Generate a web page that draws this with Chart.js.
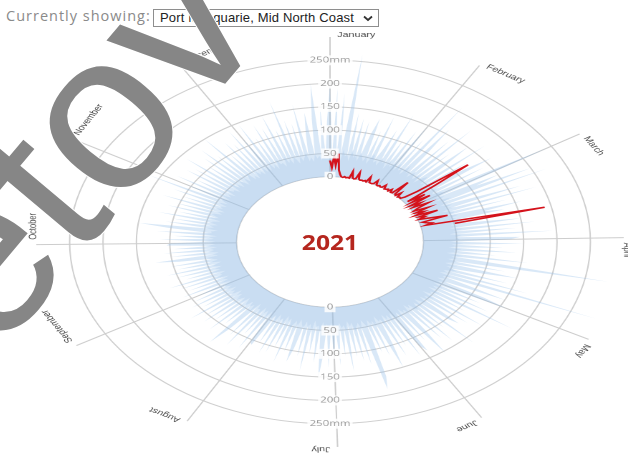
<!DOCTYPE html>
<html>
<head>
<meta charset="utf-8">
<script src="https://cdn.jsdelivr.net/npm/chart.js@4.4.0/dist/chart.umd.min.js"></script>
<style>
html,body{margin:0;padding:0;width:628px;height:454px;overflow:hidden;background:#fff;}
#hdr{position:absolute;left:6px;top:6px;font:14.5px "Open Sans",sans-serif;letter-spacing:1px;color:#8a8a8a;white-space:nowrap;line-height:20px;}
#sel{position:absolute;left:153px;top:9px;width:218px;height:16px;border:1px solid #8e8e8e;font:13px "Liberation Sans",Arial,sans-serif;letter-spacing:0.15px;color:#222;line-height:16px;padding-left:6px;box-sizing:content-box;white-space:nowrap;}
#sel svg{position:absolute;right:5px;top:5px;}
#wrap{position:absolute;left:100px;top:12px;width:460px;height:460px;transform:scaleX(1.433);transform-origin:230px 230px;}
#year{position:absolute;left:330px;top:241px;transform:translate(-50%,-50%) scaleX(1.12);font:bold 22px "Open Sans",sans-serif;color:#b5261e;white-space:nowrap;}
#wm{position:absolute;left:0;top:0;width:628px;height:454px;pointer-events:none;}
</style>
</head>
<body>
<div id="hdr">Currently showing:</div>
<div id="sel">Port Macquarie, Mid North Coast<svg width="10" height="7" viewBox="0 0 10 7"><polyline points="1,1.5 5,5 9,1.5" fill="none" stroke="#333" stroke-width="1.8"/></svg></div>
<div id="wrap"><canvas id="c" width="460" height="460"></canvas></div>
<div id="year">2021</div>
<svg id="wm" viewBox="0 0 628 454"><text x="-4" y="357" transform="rotate(-50 -4 357)" font-family="Liberation Sans, Arial, sans-serif" font-size="225" fill="#868686" stroke="#ffffff" stroke-width="2" paint-order="stroke">etov</text></svg>
<script>
// ---- categories ----
const MONTHS = ['January','February','March','April','May','June','July','August','September','October','November','December'];
const DAYS_IN_MONTH = [31,28,31,30,31,30,31,31,30,31,30,31];

// ---- radial axis ticks (mm) ----
const TICK_VALUES = [0, 50, 100, 150, 200, 250];
const TICK_UNIT = 'mm';

// ---- historical daily maxima (mm), Jan 1 .. Dec 31 ----
const RAIN_MAX = [
  198,48,190,45,180,50,120,265,45,140,52,130,44,125,50,100,135,46,110,48,145,50,70,120,46,160,48,105,44,130,50,
  150,46,120,44,210,48,160,100,45,140,50,180,46,120,44,150,100,48,170,45,130,50,115,160,46,140,48,120,
  245,48,150,110,200,46,220,50,95,170,45,190,48,140,46,160,100,130,48,200,50,90,150,46,170,48,140,50,195,46,145,
  130,46,150,48,120,44,140,50,110,46,160,48,120,285,45,130,48,150,100,46,140,50,175,48,290,46,90,150,44,120,
  160,46,120,48,140,44,190,46,110,45,150,48,130,44,120,100,46,165,44,110,48,140,44,125,46,100,155,45,115,44,135,
  120,44,140,46,110,42,130,45,100,150,44,120,42,110,46,160,187,44,130,42,120,45,110,42,140,46,105,42,125,44,
  115,42,130,40,105,153,42,120,40,100,44,140,40,110,42,95,125,40,105,44,130,40,100,42,115,40,120,44,100,40,110,
  105,40,125,42,95,38,130,42,110,38,100,140,40,95,42,120,38,100,40,115,38,105,42,125,40,95,42,110,38,100,40,
  90,38,110,40,95,36,105,40,120,38,90,40,100,38,115,36,95,40,105,38,90,125,38,100,36,110,40,95,38,105,
  100,40,115,42,95,38,120,42,105,148,40,110,42,100,38,125,42,95,38,115,42,105,40,130,42,100,38,120,42,166,44,
  110,42,130,44,100,40,125,44,115,42,140,40,105,44,120,40,135,44,110,42,150,44,100,42,125,44,115,40,140,46,
  120,44,145,46,110,42,135,46,125,44,150,46,115,44,174,46,130,44,120,46,160,48,95,140,46,125,200,46,150,48,120
];

// ---- typical heavy-day band (mm), Jan 1 .. Dec 31 ----
const RAIN_BAND = [
  52,38,58,42,55,35,60,45,50,36,62,44,54,38,58,48,40,56,36,52,60,42,48,38,58,46,52,36,62,44,50,
  56,40,60,44,52,38,64,46,54,40,58,48,42,60,38,55,62,44,50,40,66,46,54,38,60,48,44,58,
  62,45,58,40,66,48,55,42,60,46,64,40,52,58,44,62,48,56,40,60,50,44,58,42,62,46,54,40,58,48,52,
  55,40,60,42,52,38,58,46,50,36,62,44,54,40,56,48,38,58,42,52,60,40,48,36,56,44,50,38,58,42,
  52,38,56,40,50,36,58,44,48,34,60,42,52,38,54,46,36,56,40,50,58,38,46,34,54,42,48,36,56,40,50,
  50,36,54,38,48,34,56,42,46,32,58,40,50,36,52,44,34,54,38,48,56,36,44,32,52,40,46,34,54,38,
  48,34,52,36,46,32,54,40,44,30,56,38,48,34,50,42,32,52,36,46,54,34,42,30,50,38,44,32,52,36,46,
  44,32,48,34,42,30,50,38,40,28,52,36,44,32,46,40,30,48,34,42,50,32,40,28,46,36,42,30,48,34,44,
  42,30,46,32,40,28,48,36,38,28,50,34,42,30,44,38,28,46,32,40,48,30,38,28,44,34,40,30,46,32,
  44,32,48,34,42,30,50,38,40,30,52,36,44,32,46,40,30,48,34,42,50,32,40,30,46,36,42,32,48,34,44,
  46,34,50,36,44,32,52,40,42,32,54,38,46,34,48,42,32,50,36,44,52,34,42,32,48,38,44,34,50,36,
  48,36,52,38,46,34,54,42,44,34,56,40,48,36,50,44,34,52,38,46,54,36,44,34,50,40,46,36,52,38,50
];

// ---- 2021 daily rainfall (mm), from Jan 1 ----
const RAIN_2021 = [
  35,20,45,25,50,15,6,1,0,2,0,1,0,15,2,0,1,15,2,0,1,0,2,0,12,1,0,0,2,10,1,
  0,2,0,1,8,0,1,3,0,6,0,1,33,2,0,10,0,2,1,8,30,125,60,5,35,8,40,3,
  20,5,30,10,2,25,3,15,0,35,4,12,2,20,45,5,10,18,8,190,51
];

// day labels and month start indices built from the categories
const DAY_LABELS = [];
const MONTH_START = [];
MONTHS.forEach((m, mi) => {
  MONTH_START.push(DAY_LABELS.length);
  for (let d = 1; d <= DAYS_IN_MONTH[mi]; d++) DAY_LABELS.push(d + ' ' + m);
});
const N = DAY_LABELS.length;
const series2021 = RAIN_2021.concat(new Array(N - RAIN_2021.length).fill(null));

const radialDecor = {
  id: 'radialDecor',
  beforeDatasetsDraw(chart) {
    const s = chart.scales.r, ctx = chart.ctx;
    ctx.save();
    ctx.beginPath();
    ctx.arc(s.xCenter, s.yCenter, s.getDistanceFromCenterForValue(0) - 0.5, 0, Math.PI * 2);
    ctx.fillStyle = '#ffffff';
    ctx.fill();
    ctx.restore();
  },
  afterDatasetsDraw(chart) {
    const s = chart.scales.r, ctx = chart.ctx;
    ctx.save();
    ctx.font = '8px "Open Sans", sans-serif';
    ctx.textAlign = 'center';
    ctx.textBaseline = 'middle';
    TICK_VALUES.forEach((v, i) => {
      const txt = i === TICK_VALUES.length - 1 ? v + TICK_UNIT : String(v);
      const d = s.getDistanceFromCenterForValue(v);
      const w = ctx.measureText(txt).width;
      [-1, 1].forEach(dir => {
        const y = s.yCenter + dir * d;
        ctx.fillStyle = 'rgba(255,255,255,0.85)';
        ctx.fillRect(s.xCenter - w / 2 - 1.5, y - 5, w + 3, 10);
        ctx.fillStyle = '#9a9a9a';
        ctx.fillText(txt, s.xCenter, y);
      });
    });
    ctx.font = '7.5px "Liberation Sans", Arial, sans-serif';
    ctx.fillStyle = '#4a4a4a';
    ctx.textAlign = 'left';
    MONTH_START.forEach((idx, mi) => {
      const p = s.getPointPosition(idx, s.drawingArea + 2);
      const a = s.getIndexAngle(idx);
      ctx.save();
      ctx.translate(p.x, p.y);
      ctx.rotate(a);
      ctx.fillText(MONTHS[mi], 5, 0);
      ctx.restore();
    });
    ctx.restore();
  }
};

new Chart(document.getElementById('c'), {
  type: 'radar',
  data: {
    labels: DAY_LABELS,
    datasets: [
      { label: '2021', data: series2021, borderColor: '#d4121b', borderWidth: 1.5, fill: false,
        pointRadius: 0, order: 0, spanGaps: false, tension: 0 },
      { label: 'Typical', data: RAIN_BAND, backgroundColor: 'rgba(150,190,232,0.24)', borderWidth: 0,
        fill: 'origin', pointRadius: 0, order: 1 },
      { label: 'Highest', data: RAIN_MAX, backgroundColor: 'rgba(150,190,232,0.36)', borderWidth: 0,
        fill: 'origin', pointRadius: 0, order: 2 }
    ]
  },
  options: {
    responsive: false,
    devicePixelRatio: 2,
    animation: false,
    layout: { padding: 25 },
    plugins: { legend: { display: false }, tooltip: { enabled: false } },
    scales: {
      r: {
        min: -140, max: 300,
        ticks: { display: false, stepSize: 50 },
        pointLabels: { display: false },
        grid: { circular: true, lineWidth: 1,
          color: c => (c.tick && c.tick.value >= 0 && c.tick.value <= 250) ? '#cfcfcf' : 'rgba(0,0,0,0)' },
        angleLines: { display: true, color: '#cdcdcd',
          lineWidth: c => MONTH_START.includes(c.index) ? 1 : 0 }
      }
    }
  },
  plugins: [radialDecor]
});
</script>
</body>
</html>
